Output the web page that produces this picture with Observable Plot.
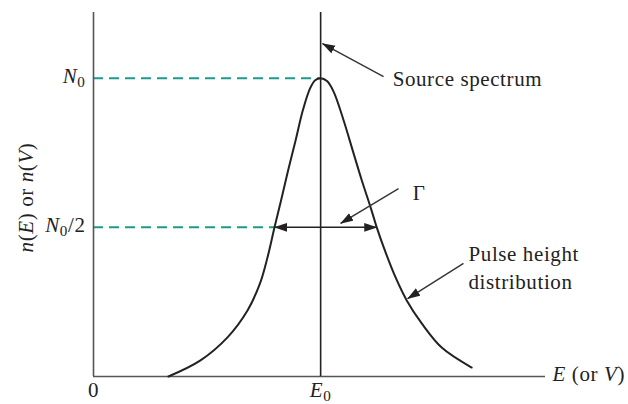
<!DOCTYPE html>
<html>
<head>
<meta charset="utf-8">
<script src="https://cdn.jsdelivr.net/npm/d3@7"></script>
<script src="https://cdn.jsdelivr.net/npm/@observablehq/plot@0.6"></script>
<style>
  html, body { margin: 0; padding: 0; background: #fff; }
  #chart { width: 628px; height: 404px; }
</style>
</head>
<body>
<div id="chart"></div>
<script>
// Pulse height distribution (measured) around the monoenergetic source line E0.
// Energies in units of E0, counts in units of the peak N0.
const pulseE = [0.330, 0.471, 0.590, 0.678, 0.733, 0.766, 0.797, 0.826, 0.857, 0.890, 0.922, 0.953, 0.976, 1.000,
                1.028, 1.057, 1.101, 1.141, 1.181, 1.220, 1.247, 1.286, 1.330, 1.379, 1.445, 1.533, 1.665];
const pulseN = [0.000, 0.054, 0.131, 0.221, 0.312, 0.399, 0.500, 0.591, 0.691, 0.792, 0.893, 0.965, 0.993, 1.000,
                0.990, 0.955, 0.859, 0.758, 0.658, 0.567, 0.500, 0.416, 0.332, 0.255, 0.178, 0.097, 0.030];

// Source spectrum: a single line at E0
const sourceE = [1];

// Reference levels on the count axis
const levelN = [1, 0.5];
const levelLabels = ["*N*_0", "*N*_0/2"];
const levelEnd = [1.000, 0.797];          // where each dashed guide meets the curve

// Full width at half maximum
const fwhmLeft = 0.797;
const fwhmRight = 1.247;
const fwhmN = 0.5;

// Energy axis labels
const xTickE = [0, 1];
const xTickLabels = ["0", "*E*_0"];

// Callouts: label text, label anchor, and the pointer from label to feature
const calloutText = ["Source spectrum", "Γ", "Pulse height\ndistribution"];
const calloutE = [1.317, 1.405, 1.651];
const calloutN = [1.002, 0.623, 0.369];
const pointerFromE = [1.277, 1.343, 1.629];
const pointerFromN = [1.005, 0.630, 0.379];
const pointerToE = [1.008, 1.088, 1.383];
const pointerToN = [1.116, 0.513, 0.261];

const curve = pulseE.map((e, i) => ({e, n: pulseN[i]}));
const levels = levelN.map((n, i) => ({n, label: levelLabels[i], end: levelEnd[i]}));
const ticks = xTickE.map((e, i) => ({e, label: xTickLabels[i]}));
const callouts = calloutText.map((t, i) => ({
  t, e: calloutE[i], n: calloutN[i],
  e1: pointerFromE[i], n1: pointerFromN[i], e2: pointerToE[i], n2: pointerToN[i]
}));

const ink = "#222";
const axisInk = "#555";
const teal = "#1b9c8b";
const serif = "'Liberation Serif', 'DejaVu Serif', serif";

const chart = Plot.plot({
  width: 628,
  height: 404,
  marginLeft: 93,
  marginRight: 83,
  marginTop: 12,
  marginBottom: 28,
  x: {domain: [0, 1.99], axis: null},
  y: {domain: [0, 1.22], axis: null},
  style: {fontFamily: serif, background: "#fff", color: ink, letterSpacing: "0.6px"},
  marks: [
    // dashed guides at N0 and N0/2
    Plot.ruleY(levels, {y: "n", x1: 0, x2: "end", stroke: teal, strokeWidth: 2, strokeDasharray: "10,6"}),
    // axes
    Plot.ruleX([0], {stroke: axisInk, strokeWidth: 1.6}),
    Plot.ruleY([0], {stroke: axisInk, strokeWidth: 1.6}),
    // source line
    Plot.ruleX(sourceE, {stroke: ink, strokeWidth: 1.6}),
    // pulse height distribution
    Plot.line(curve, {x: "e", y: "n", curve: "catmull-rom", stroke: ink, strokeWidth: 2}),
    // FWHM double arrow
    Plot.link([{x1: fwhmLeft, x2: fwhmRight, y: fwhmN}], {x1: "x1", x2: "x2", y1: "y", y2: "y",
      stroke: ink, strokeWidth: 1.4, ariaLabel: () => "fwhm"}),
    // callout pointers
    Plot.link(callouts, {x1: "e1", y1: "n1", x2: "e2", y2: "n2", stroke: "#333", strokeWidth: 1.4,
      ariaLabel: () => "callout"}),
    // callout labels
    Plot.text(callouts, {x: "e", y: "n", text: "t", textAnchor: "start", lineAnchor: "middle",
      fontSize: 21, lineHeight: 1.33, fill: ink}),
    // count axis level labels
    Plot.text(levels, {x: 0, y: "n", text: "label", textAnchor: "end", dx: -8, dy: -2,
      fontSize: 21, fill: ink, ariaLabel: () => "math"}),
    // energy axis labels
    Plot.text(ticks, {x: "e", y: 0, text: "label", textAnchor: "middle", lineAnchor: "middle", dy: 14,
      fontSize: 21, fill: ink, ariaLabel: () => "math"}),
    Plot.text(["*E* (or *V*)"], {x: 1.99, y: 0, text: d => d, textAnchor: "start", lineAnchor: "middle", dx: 7, dy: -2,
      fontSize: 21, fill: ink, ariaLabel: () => "math"}),
    // count axis title
    Plot.text(["*n*(*E*) or *n*(*V*)"], {x: -0.295, y: 0.600, text: d => d, rotate: -90,
      textAnchor: "middle", lineAnchor: "middle", fontSize: 21, fill: ink, ariaLabel: () => "math"})
  ]
});

// Elements tagged by aria-label, whether the label sits on the group or on each element
function tagged(label, tag) {
  const out = [];
  chart.querySelectorAll(`[aria-label="${label}"]`).forEach(el => {
    if (el.tagName.toLowerCase() === tag) out.push(el);
    else el.querySelectorAll(tag).forEach(c => out.push(c));
  });
  return out;
}

// Turn the light *italic* / _subscript markup into tspans
const NS = "http://www.w3.org/2000/svg";
function typeset(el) {
  const src = el.textContent;
  while (el.firstChild) el.removeChild(el.firstChild);
  let italic = false, buf = "", pendingDy = 0;
  const add = (txt, opts = {}) => {
    const t = document.createElementNS(NS, "tspan");
    t.textContent = txt;
    if (opts.italic) t.setAttribute("font-style", "italic");
    if (opts.size) t.setAttribute("font-size", opts.size);
    const dy = (opts.dy || 0) + pendingDy;
    if (dy) t.setAttribute("dy", dy);
    pendingDy = opts.after || 0;
    el.appendChild(t);
  };
  const flush = () => { if (buf) { add(buf, {italic}); buf = ""; } };
  for (let i = 0; i < src.length; i++) {
    const c = src[i];
    if (c === "*") { flush(); italic = !italic; }
    else if (c === "_") { flush(); add(src[i + 1], {size: "0.72em", dy: 4, after: -4}); i++; }
    else buf += c;
  }
  flush();
}
tagged("math", "text").forEach(typeset);

// Filled arrowheads for pointers and the FWHM bracket
const defs = d3.select(chart).insert("defs", ":first-child");
defs.append("marker")
  .attr("id", "head")
  .attr("viewBox", "0 0 12 8")
  .attr("refX", 11.5).attr("refY", 4)
  .attr("markerWidth", 13).attr("markerHeight", 9)
  .attr("markerUnits", "userSpaceOnUse")
  .attr("orient", "auto-start-reverse")
  .append("path").attr("d", "M0,0L12,4L0,8Z").attr("fill", "#222");
tagged("callout", "path").forEach(p => p.setAttribute("marker-end", "url(#head)"));
tagged("fwhm", "path").forEach(p => {
  p.setAttribute("marker-start", "url(#head)");
  p.setAttribute("marker-end", "url(#head)");
});

document.getElementById("chart").appendChild(chart);
</script>
</body>
</html>
